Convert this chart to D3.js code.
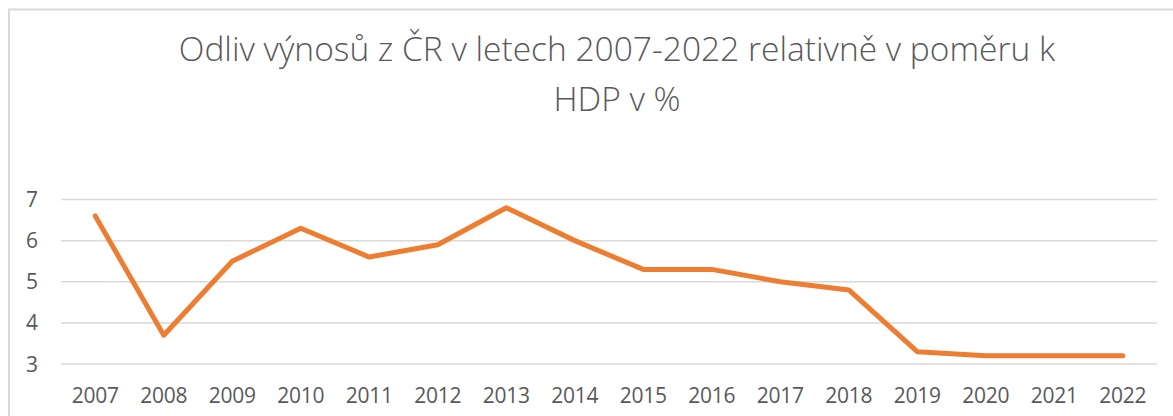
<!DOCTYPE html>
<html>
<head>
<meta charset="utf-8">
<script src="https://cdn.jsdelivr.net/npm/d3@7"></script>
<style>
  html, body { margin: 0; padding: 0; background: #fff; }
  svg { display: block; }
</style>
</head>
<body>
<svg id="chart"></svg>
<script>
// data
const years = ["2007", "2008", "2009", "2010", "2011", "2012", "2013", "2014",
               "2015", "2016", "2017", "2018", "2019", "2020", "2021", "2022"];
const values = [6.6, 3.7, 5.5, 6.3, 5.6, 5.9, 6.8, 6.0,
                5.3, 5.3, 5.0, 4.8, 3.3, 3.2, 3.2, 3.2];
const yTicks = [3, 4, 5, 6, 7];
const titleLines = ["Odliv výnosů z ČR v letech 2007-2022 relativně v poměru k", "HDP v %"];

const svgW = 1173, svgH = 416;
const plot = { left: 61, right: 1157, top: 199.5, bottom: 364 };

const root = d3.select("#chart").attr("width", svgW).attr("height", svgH);

// chart frame (only top + left visible)
root.append("path")
  .attr("d", `M9,${svgH} L9,9.5 L${svgW},9.5`)
  .attr("fill", "none")
  .attr("stroke", "#d9d9d9")
  .attr("stroke-width", 2);

const x = d3.scaleBand().domain(years).range([plot.left, plot.right]);
const y = d3.scaleLinear().domain([3, 7]).range([plot.bottom, plot.top]);

// gridlines
root.append("g").selectAll("line")
  .data(yTicks)
  .enter()
  .append("line")
  .attr("x1", plot.left)
  .attr("x2", plot.right)
  .attr("y1", d => y(d))
  .attr("y2", d => y(d))
  .attr("stroke", "#d9d9d9")
  .attr("stroke-width", 1.5);

// y labels
root.append("g").selectAll("text")
  .data(yTicks)
  .enter()
  .append("text")
  .attr("x", 38)
  .attr("y", d => y(d))
  .attr("dy", "0.36em")
  .attr("text-anchor", "end")
  .style("font-family", "'Open Sans', sans-serif")
  .style("font-size", "21px")
  .style("fill", "#595959")
  .text(d => d);

// x labels
root.append("g").selectAll("text")
  .data(years)
  .enter()
  .append("text")
  .attr("x", d => x(d) + x.bandwidth() / 2)
  .attr("y", 403)
  .attr("text-anchor", "middle")
  .style("font-family", "'Open Sans', sans-serif")
  .style("font-size", "21px")
  .style("letter-spacing", "-0.3px")
  .style("fill", "#595959")
  .text(d => d);

// line
const line = d3.line()
  .x((d, i) => x(years[i]) + x.bandwidth() / 2)
  .y(d => y(d));

root.append("path")
  .datum(values)
  .attr("d", line)
  .attr("fill", "none")
  .attr("stroke", "#ed7d31")
  .attr("stroke-width", 5)
  .attr("stroke-linejoin", "round")
  .attr("stroke-linecap", "round");

// title
root.append("g").selectAll("text")
  .data(titleLines)
  .enter()
  .append("text")
  .attr("x", 617)
  .attr("y", (d, i) => 61 + i * 50)
  .attr("text-anchor", "middle")
  .style("font-family", "'Open Sans', sans-serif")
  .style("font-weight", "300")
  .style("font-size", "33.5px")
  .style("fill", "#595959")
  .text(d => d);
</script>
</body>
</html>
